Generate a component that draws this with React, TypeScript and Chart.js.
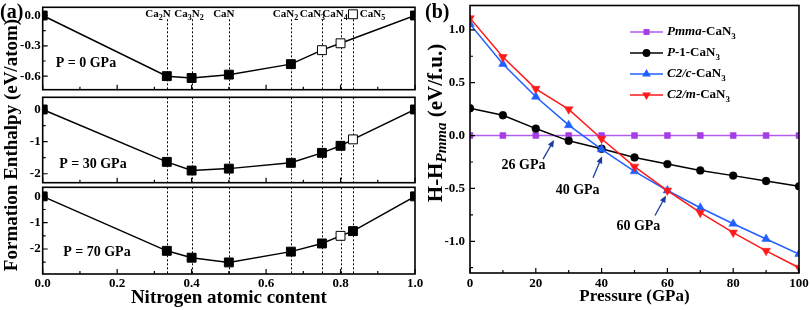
import React, { useEffect, useRef } from 'react';
import { Chart, registerables } from 'chart.js';

Chart.register(...registerables);

const FONT = "'Liberation Serif', 'Times New Roman', Times, serif";
Chart.defaults.font.family = FONT;
Chart.defaults.font.weight = 'bold';
Chart.defaults.color = '#000';

// ---------------- Panel (a) data ----------------
const nitrogenContent = [0, 1 / 3, 0.4, 0.5, 2 / 3, 0.75, 0.8, 5 / 6, 1];
const compoundNames = ['Ca_2N', 'Ca_3N_2', 'CaN', 'CaN_2', 'CaN_3', 'CaN_4', 'CaN_5'];
const compoundContent = [1 / 3, 0.4, 0.5, 2 / 3, 0.75, 0.8, 5 / 6];
const pressureLabels = ['P = 0 GPa', 'P = 30 GPa', 'P = 70 GPa'];
const enthalpyP0 = [0, -0.6, -0.618, -0.585, -0.481, -0.343, -0.275, 0.012, 0];
const enthalpyP30 = [0, -1.63, -1.9, -1.84, -1.66, -1.35, -1.13, -0.93, 0];
const enthalpyP70 = [0, -2.07, -2.33, -2.51, -2.1, -1.79, -1.5, -1.32, 0];
const filledP0 = [1, 1, 1, 1, 1, 0, 0, 0, 1];
const filledP30 = [1, 1, 1, 1, 1, 1, 1, 0, 1];
const filledP70 = [1, 1, 1, 1, 1, 1, 0, 1, 1];
const hullP0 = [1, 1, 1, 1, 1, 1, 1, 0, 1];
const hullP30 = [1, 1, 1, 1, 1, 1, 1, 1, 1];
const hullP70 = [1, 1, 1, 1, 1, 1, 1, 1, 1];
const contentTicks = [0, 0.2, 0.4, 0.6, 0.8, 1.0];
const contentMinorTicks = [0.1, 0.3, 0.5, 0.7, 0.9];
const enthalpyTicksP0 = [0, -0.3, -0.6];
const enthalpyMinorP0 = [-0.15, -0.45];
const enthalpyTicksP30 = [0, -1, -2];
const enthalpyMinorP30 = [-0.5, -1.5];
const enthalpyTicksP70 = [0, -1, -2];
const enthalpyMinorP70 = [-0.5, -1.5, -2.5];

// ---------------- Panel (b) data ----------------
const pressureGPa = [0, 10, 20, 30, 40, 50, 60, 70, 80, 90, 100];
const dH_Pmma = [0, 0, 0, 0, 0, 0, 0, 0, 0, 0, 0];
const dH_P1 = [0.258, 0.192, 0.066, -0.05, -0.125, -0.207, -0.27, -0.33, -0.379, -0.43, -0.48];
const dH_C2c = [1.054, 0.677, 0.367, 0.098, -0.13, -0.338, -0.52, -0.683, -0.834, -0.978, -1.12];
const dH_C2m = [1.11, 0.743, 0.442, 0.248, -0.03, -0.294, -0.52, -0.73, -0.918, -1.09, -1.25];
const seriesNames = ['*Pmma*-CaN_3', '*P*-1-CaN_3', '*C2/c*-CaN_3', '*C2/m*-CaN_3'];
const transitionPressure = [26, 40, 60];
const transitionEnthalpy = [0, -0.13, -0.52];
const transitionLabels = ['26 GPa', '40 GPa', '60 GPa'];
const pressureTicks = [0, 20, 40, 60, 80, 100];
const pressureMinorTicks = [10, 30, 50, 70, 90];
const dHTicks = [-1, -0.5, 0, 0.5, 1];
const dHMinorTicks = [-1.25, -0.75, -0.25, 0.25, 0.75];

// ---------------- styles ----------------
const compoundLabelDx = [-8.8, -2.6, -5, -5.4, -9.5, -5.5, 19.6];
const pressureLabelPos = [
  { dx: 13, dy: 56 },
  { dx: 16.5, dy: 67 },
  { dx: 20.5, dy: 65 },
];
const subLayout = [
  { top: 0, height: 97, padTop: 5, padBottom: 1, xHeight: 0 },
  { top: 90, height: 100, padTop: 6, padBottom: 5, xHeight: 0 },
  { top: 180, height: 130, padTop: 5, padBottom: 0, xHeight: 36 },
];
const seriesColor = ['#a53ce6', '#000000', '#2060ff', '#ff1a1a'];
const seriesLineColor = ['#b35cf2', '#000000', '#2060ff', '#ff1a1a'];
const seriesMarker = [
  { style: 'rect', r: 4.2, rot: 0 },
  { style: 'circle', r: 3.9, rot: 0 },
  { style: 'triangle', r: 5, rot: 0 },
  { style: 'triangle', r: 5, rot: 180 },
];
const arrowStyle = [
  { tail: [-12.5, 23.5], tip: [-1.5, 4.5], text: [-32, 30] },
  { tail: [-8.6, 28.5], tip: [0.5, 7], text: [-24, 41.5] },
  { tail: [-12.4, 25], tip: [-1.4, 5], text: [-29, 36] },
];
const ARROW = '#1a3c9c';

// ---------------- helpers ----------------
type Seg = { t: string; it: boolean; sub: boolean };
function richSegments(text: string): Seg[] {
  const segs: Seg[] = [];
  let it = false;
  for (let i = 0; i < text.length; i++) {
    const c = text[i];
    if (c === '*') { it = !it; continue; }
    if (c === '_') { segs.push({ t: text[i + 1], it, sub: true }); i++; continue; }
    const last = segs[segs.length - 1];
    if (last && !last.sub && last.it === it) last.t += c;
    else segs.push({ t: c, it, sub: false });
  }
  return segs;
}

function drawRich(ctx: CanvasRenderingContext2D, text: string, x: number, y: number, size: number, align: 'left' | 'center' | 'right') {
  const segs = richSegments(text);
  const fontFor = (s: Seg) => `${s.it ? 'italic ' : ''}bold ${s.sub ? Math.round(size * 0.72) : size}px ${FONT}`;
  let w = 0;
  for (const s of segs) { ctx.font = fontFor(s); w += ctx.measureText(s.t).width; }
  let cx = align === 'left' ? x : align === 'center' ? x - w / 2 : x - w;
  ctx.textBaseline = 'middle';
  ctx.textAlign = 'left';
  for (const s of segs) {
    ctx.font = fontFor(s);
    ctx.fillText(s.t, cx, s.sub ? y + size * 0.33 : y);
    cx += ctx.measureText(s.t).width;
  }
}

function drawMarker(ctx: CanvasRenderingContext2D, style: string, x: number, y: number, r: number, rot: number, color: string) {
  ctx.fillStyle = color;
  ctx.beginPath();
  if (style === 'rect') {
    const s = r * Math.SQRT1_2;
    ctx.rect(x - s, y - s, 2 * s, 2 * s);
  } else if (style === 'circle') {
    ctx.arc(x, y, r, 0, Math.PI * 2);
  } else {
    let a = (rot * Math.PI) / 180;
    ctx.moveTo(x + Math.sin(a) * r, y - Math.cos(a) * r);
    a += (2 * Math.PI) / 3;
    ctx.lineTo(x + Math.sin(a) * r, y - Math.cos(a) * r);
    a += (2 * Math.PI) / 3;
    ctx.lineTo(x + Math.sin(a) * r, y - Math.cos(a) * r);
    ctx.closePath();
  }
  ctx.fill();
}

function framePlugin(xMajor: number[], xMinor: number[], yMajor: number[], yMinor: number[]) {
  return {
    id: 'frame',
    afterDatasetsDraw(chart: any) {
      const { ctx, chartArea: ca, scales } = chart;
      const xs = scales.x, ys = scales.y;
      ctx.save();
      ctx.strokeStyle = '#000';
      ctx.lineWidth = 1.2;
      ctx.beginPath();
      xMajor.forEach((v) => { const p = xs.getPixelForValue(v); ctx.moveTo(p, ca.bottom); ctx.lineTo(p, ca.bottom - 5); });
      xMinor.forEach((v) => { const p = xs.getPixelForValue(v); ctx.moveTo(p, ca.bottom); ctx.lineTo(p, ca.bottom - 3); });
      yMajor.forEach((v) => { const p = ys.getPixelForValue(v); ctx.moveTo(ca.left, p); ctx.lineTo(ca.left + 5, p); });
      yMinor.forEach((v) => { const p = ys.getPixelForValue(v); ctx.moveTo(ca.left, p); ctx.lineTo(ca.left + 3, p); });
      ctx.stroke();
      ctx.lineWidth = 1.6;
      ctx.strokeRect(ca.left, ca.top, ca.right - ca.left, ca.bottom - ca.top);
      ctx.restore();
    },
  };
}

function fixedScale(size: number, horizontal: boolean) {
  return (s: any) => {
    if (horizontal) s.height = size; else s.width = size;
    s.paddingTop = 0; s.paddingBottom = 0; s.paddingLeft = 0; s.paddingRight = 0;
  };
}

const panelA = [
  { values: enthalpyP0, filled: filledP0, hull: hullP0, min: -0.734, max: 0.081, major: enthalpyTicksP0, minor: enthalpyMinorP0, digits: 1 },
  { values: enthalpyP30, filled: filledP30, hull: hullP30, min: -2.278, max: 0.379, major: enthalpyTicksP30, minor: enthalpyMinorP30, digits: 0 },
  { values: enthalpyP70, filled: filledP70, hull: hullP70, min: -2.95, max: 0.344, major: enthalpyTicksP70, minor: enthalpyMinorP70, digits: 0 },
];

function makeEnthalpyChart(canvas: HTMLCanvasElement, k: number) {
  const p = panelA[k];
  const L = subLayout[k];
  const pts = nitrogenContent.map((x, i) => ({ x, y: p.values[i] }));
  const hull = pts.filter((_, i) => p.hull[i]);
  const bottom = k === 2;
  const decor = {
    id: 'decor',
    beforeDatasetsDraw(chart: any) {
      const { ctx, chartArea: ca, scales } = chart;
      const xs = scales.x;
      ctx.save();
      ctx.strokeStyle = '#000';
      ctx.lineWidth = 1;
      ctx.setLineDash([2, 2]);
      compoundContent.forEach((c) => {
        const px = Math.round(xs.getPixelForValue(c)) + 0.5;
        ctx.beginPath();
        ctx.moveTo(px, k === 0 ? ca.top + 12 : ca.top);
        ctx.lineTo(px, ca.bottom);
        ctx.stroke();
      });
      ctx.setLineDash([]);
      ctx.fillStyle = '#000';
      if (k === 0) {
        compoundNames.forEach((n, i) => {
          drawRich(ctx, n, xs.getPixelForValue(compoundContent[i]) + compoundLabelDx[i], ca.top + 7, 11, 'center');
        });
      }
      drawRich(ctx, pressureLabels[k], ca.left + pressureLabelPos[k].dx, ca.top + pressureLabelPos[k].dy, 14, 'left');
      ctx.restore();
    },
  };
  return new Chart(canvas, {
    type: 'line',
    data: {
      datasets: [
        { data: hull, borderColor: '#000', borderWidth: 1.5, pointRadius: 0, tension: 0, order: 2, clip: 0 } as any,
        {
          data: pts, showLine: false, pointStyle: 'rect', pointRadius: 6.3, pointBorderWidth: 1,
          pointBorderColor: '#000', pointBackgroundColor: p.filled.map((f) => (f ? '#000' : '#fff')), order: 1, clip: 0,
        } as any,
      ],
    },
    options: {
      responsive: false,
      maintainAspectRatio: false,
      animation: false,
      events: [],
      layout: { padding: { top: L.padTop, bottom: L.padBottom, left: 0, right: 15 } },
      plugins: { legend: { display: false }, tooltip: { enabled: false } },
      scales: {
        x: {
          type: 'linear', min: 0, max: 1, display: bottom,
          grid: { display: false, drawTicks: false }, border: { display: false },
          afterBuildTicks: (s: any) => { s.ticks = contentTicks.map((v) => ({ value: v })); },
          afterFit: fixedScale(L.xHeight, true),
          ticks: { autoSkip: false, maxRotation: 0, padding: 1.5, font: { size: 13, weight: 'bold' }, callback: (v: any) => Number(v).toFixed(1) },
          title: { display: bottom, text: 'Nitrogen atomic content', font: { size: 19, weight: 'bold' }, padding: { top: 0, bottom: 0.5 } },
        },
        y: {
          type: 'linear', min: p.min, max: p.max,
          grid: { display: false, drawTicks: false }, border: { display: false },
          afterBuildTicks: (s: any) => { s.ticks = p.major.map((v) => ({ value: v })); },
          afterFit: fixedScale(42.7, false),
          ticks: { autoSkip: false, padding: 2, font: { size: 13, weight: 'bold' }, callback: (v: any) => Number(v).toFixed(p.digits) },
        },
      },
    } as any,
    plugins: [decor, framePlugin(contentTicks, contentMinorTicks, p.major, p.minor)],
  });
}

function makePressureChart(canvas: HTMLCanvasElement) {
  const series = [dH_Pmma, dH_P1, dH_C2c, dH_C2m];
  const datasets = series.map((arr, i) => ({
    data: pressureGPa.map((x, j) => ({ x, y: arr[j] })),
    borderColor: seriesLineColor[i],
    borderWidth: 1.5,
    pointStyle: seriesMarker[i].style,
    pointRadius: seriesMarker[i].r,
    pointRotation: seriesMarker[i].rot,
    pointBackgroundColor: seriesColor[i],
    pointBorderColor: seriesColor[i],
    pointBorderWidth: 0.5,
    tension: 0,
    order: 4 - i,
    clip: 0,
  }));
  const decor = {
    id: 'pdecor',
    afterDatasetsDraw(chart: any) {
      const { ctx, chartArea: ca, scales } = chart;
      const xs = scales.x, ys = scales.y;
      ctx.save();
      seriesNames.forEach((name, i) => {
        const yy = ca.top + 26.5 + i * 21;
        ctx.strokeStyle = seriesLineColor[i];
        ctx.lineWidth = 1.5;
        ctx.beginPath();
        ctx.moveTo(ca.left + 160, yy);
        ctx.lineTo(ca.left + 193, yy);
        ctx.stroke();
        drawMarker(ctx, seriesMarker[i].style, ca.left + 176.5, yy, seriesMarker[i].r, seriesMarker[i].rot, seriesColor[i]);
        ctx.fillStyle = '#000';
        drawRich(ctx, name, ca.left + 197, yy, 13, 'left');
      });
      transitionPressure.forEach((pv, i) => {
        const tx = xs.getPixelForValue(pv);
        const ty = ys.getPixelForValue(transitionEnthalpy[i]);
        const s = arrowStyle[i];
        const x0 = tx + s.tail[0], y0 = ty + s.tail[1], x1 = tx + s.tip[0], y1 = ty + s.tip[1];
        const ang = Math.atan2(y1 - y0, x1 - x0);
        ctx.strokeStyle = ARROW;
        ctx.fillStyle = ARROW;
        ctx.lineWidth = 1.3;
        ctx.beginPath();
        ctx.moveTo(x0, y0);
        ctx.lineTo(x1 - Math.cos(ang) * 4, y1 - Math.sin(ang) * 4);
        ctx.stroke();
        ctx.beginPath();
        ctx.moveTo(x1, y1);
        ctx.lineTo(x1 - Math.cos(ang) * 7 + Math.sin(ang) * 3, y1 - Math.sin(ang) * 7 - Math.cos(ang) * 3);
        ctx.lineTo(x1 - Math.cos(ang) * 7 - Math.sin(ang) * 3, y1 - Math.sin(ang) * 7 + Math.cos(ang) * 3);
        ctx.closePath();
        ctx.fill();
        ctx.fillStyle = '#000';
        drawRich(ctx, transitionLabels[i], tx + s.text[0], ty + s.text[1], 14, 'center');
      });
      ctx.restore();
    },
  };
  return new Chart(canvas, {
    type: 'line',
    data: { datasets: datasets as any },
    options: {
      responsive: false,
      maintainAspectRatio: false,
      animation: false,
      events: [],
      layout: { padding: { top: 4, bottom: 0, left: 0, right: 11 } },
      plugins: { legend: { display: false }, tooltip: { enabled: false } },
      scales: {
        x: {
          type: 'linear', min: 0, max: 100,
          grid: { display: false, drawTicks: false }, border: { display: false },
          afterBuildTicks: (s: any) => { s.ticks = pressureTicks.map((v) => ({ value: v })); },
          afterFit: fixedScale(37, true),
          ticks: { autoSkip: false, maxRotation: 0, padding: 2.5, font: { size: 13, weight: 'bold' }, callback: (v: any) => String(v) },
          title: { display: true, text: 'Pressure (GPa)', font: { size: 17, weight: 'bold' }, padding: { top: 0, bottom: 3.5 } },
        },
        y: {
          type: 'linear', min: -1.3, max: 1.23,
          grid: { display: false, drawTicks: false }, border: { display: false },
          afterBuildTicks: (s: any) => { s.ticks = dHTicks.map((v) => ({ value: v })); },
          afterFit: fixedScale(30, false),
          ticks: { autoSkip: false, padding: 5, font: { size: 13, weight: 'bold' }, callback: (v: any) => Number(v).toFixed(1) },
        },
      },
    } as any,
    plugins: [decor, framePlugin(pressureTicks, pressureMinorTicks, dHTicks, dHMinorTicks)],
  });
}

function ChartCanvas({ make, left, top, width, height }: { make: (c: HTMLCanvasElement) => Chart; left: number; top: number; width: number; height: number }) {
  const ref = useRef<HTMLCanvasElement>(null);
  useEffect(() => {
    const chart = make(ref.current as HTMLCanvasElement);
    return () => chart.destroy();
  }, []);
  return (
    <canvas
      ref={ref}
      width={width}
      height={height}
      style={{ position: 'absolute', left, top, width, height }}
    />
  );
}

const textBase: React.CSSProperties = {
  position: 'absolute',
  fontFamily: FONT,
  fontWeight: 'bold',
  color: '#000',
  whiteSpace: 'nowrap',
};

export default function App() {
  return (
    <div style={{ position: 'fixed', left: 0, top: 0, width: 810, height: 310, background: '#fff', overflow: 'hidden' }}>
      {subLayout.map((L, k) => (
        <ChartCanvas key={k} make={(c) => makeEnthalpyChart(c, k)} left={0} top={L.top} width={430} height={L.height} />
      ))}
      <ChartCanvas make={makePressureChart} left={440} top={0} width={370} height={310} />
      <div style={{ ...textBase, left: 0, top: 0, fontSize: 20, lineHeight: '22px' }}>(a)</div>
      <div style={{ ...textBase, left: 425, top: 0, fontSize: 20, lineHeight: '22px' }}>(b)</div>
      <div
        style={{
          ...textBase, left: 10.5 - 150, top: 145 - 12, width: 300, height: 24, lineHeight: '24px',
          textAlign: 'center', fontSize: 19, transform: 'rotate(-90deg)',
        }}
      >
        Formation Enthalpy (eV/atom)
      </div>
      <div
        style={{
          ...textBase, left: 435 - 150, top: 123 - 13, width: 300, height: 26, lineHeight: '26px',
          textAlign: 'center', fontSize: 21, transform: 'rotate(-90deg)',
        }}
      >
        H-H<sub style={{ fontStyle: 'italic', fontSize: 15, verticalAlign: '-4px', lineHeight: 0 }}>Pmma</sub> (eV/f.u.)
      </div>
    </div>
  );
}
